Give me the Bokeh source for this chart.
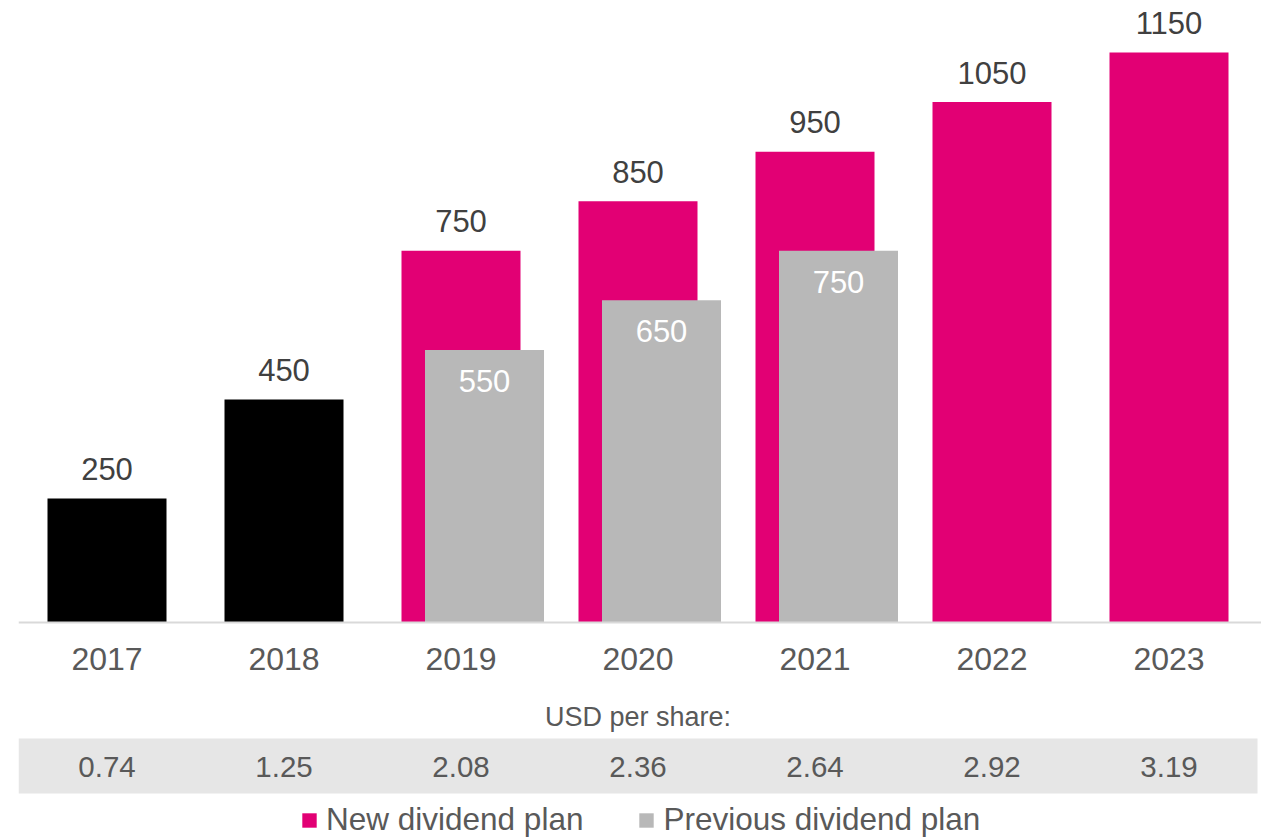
from bokeh.plotting import figure
from bokeh.models import (ColumnDataSource, Range1d, FixedTicker, Legend, LegendItem,
                          BoxAnnotation)
from bokeh.core.properties import value
from bokeh.embed import file_html
from bokeh.resources import INLINE

# ---------------- data ----------------
years = ["2017", "2018", "2019", "2020", "2021", "2022", "2023"]
actual_years = ["2017", "2018"]
actual_values = [250, 450]
new_years = ["2019", "2020", "2021", "2022", "2023"]
new_values = [750, 850, 950, 1050, 1150]
prev_years = ["2019", "2020", "2021"]
prev_values = [550, 650, 750]
usd_per_share = ["0.74", "1.25", "2.08", "2.36", "2.64", "2.92", "3.19"]

# ---------------- styling ----------------
MAGENTA = "#E20074"
GREY = "#B8B8B8"
BAND = "#E6E6E6"
FONT = "Liberation Sans"

W, H = 1261, 839
LEFT = 18
PX_PER_CAT = 177.0
AXIS_PX = 622.0                    # axis position from top of figure
PX = 1150 / 570.0                  # data units per pixel (vertical)

idx = {y: i for i, y in enumerate(years)}
frame_w = W - LEFT
x_start = -0.5
x_end = x_start + frame_w / PX_PER_CAT
y_end = AXIS_PX * PX
y_start = -(H - AXIS_PX) * PX


def below(px):
    """data y for a pixel row px (from top of figure) below the axis"""
    return -(px - AXIS_PX) * PX


BAR_W = 119 / PX_PER_CAT
PREV_SHIFT = 23.5 / PX_PER_CAT

p = figure(width=W, height=H, output_backend="svg", toolbar_location=None,
           x_range=Range1d(x_start, x_end), y_range=Range1d(y_start, y_end),
           y_axis_location=None, min_border_left=LEFT, min_border_right=0,
           min_border_top=0, min_border_bottom=0)
p.outline_line_color = None
p.grid.visible = False
p.background_fill_color = "white"
p.border_fill_color = "white"

# grey band for USD per share row
p.add_layout(BoxAnnotation(bottom=below(738), top=below(793), left=x_start,
                           right=len(years) - 0.5,
                           fill_color=BAND, fill_alpha=1, line_color=None, level="underlay"))

# bars
src_act = ColumnDataSource(dict(x=[idx[y] for y in actual_years], top=actual_values,
                                label=[str(v) for v in actual_values]))
src_new = ColumnDataSource(dict(x=[idx[y] for y in new_years], top=new_values,
                                label=[str(v) for v in new_values]))
src_prev = ColumnDataSource(dict(x=[idx[y] + PREV_SHIFT for y in prev_years], top=prev_values,
                                 label=[str(v) for v in prev_values]))

p.vbar(x="x", top="top", bottom=0, width=BAR_W, source=src_act,
       fill_color="black", line_color=None)
r_new = p.vbar(x="x", top="top", bottom=0, width=BAR_W, source=src_new,
               fill_color=MAGENTA, line_color=None)
r_prev = p.vbar(x="x", top="top", bottom=0, width=BAR_W, source=src_prev,
                fill_color=GREY, line_color=None)

# value labels
lab_above = 29.5 * PX
for s in (src_act, src_new):
    d = s.data
    p.text(x=d["x"], y=[t + lab_above for t in d["top"]], text=d["label"],
           text_font=value(FONT), text_font_size="31px", text_color="#404040",
           text_align="center", text_baseline="middle")
d = src_prev.data
p.text(x=d["x"], y=[t - 31 * PX for t in d["top"]], text=d["label"],
       text_font=value(FONT), text_font_size="31px", text_color="white",
       text_align="center", text_baseline="middle")

# x axis at zero
ax = p.xaxis[0]
ax.fixed_location = 0
ax.ticker = FixedTicker(ticks=list(range(len(years))))
ax.major_label_overrides = {i: y for i, y in enumerate(years)}
ax.major_tick_line_color = None
ax.minor_tick_line_color = None
ax.major_tick_out = 0
ax.major_tick_in = 0
ax.axis_line_color = "#D9D9D9"
ax.axis_line_width = 2
ax.major_label_text_font = FONT
ax.major_label_text_font_size = "32px"
ax.major_label_text_color = "#595959"
ax.major_label_standoff = 25

# USD per share row
p.text(x=[3], y=[below(716)], text=["USD per share:"],
       text_font=value(FONT), text_font_size="27px", text_color="#595959",
       text_align="center", text_baseline="middle")
p.text(x=list(range(len(years))), y=[below(766)] * len(years), text=usd_per_share,
       text_font=value(FONT), text_font_size="29.5px", text_color="#595959",
       text_align="center", text_baseline="middle")

legend = Legend(items=[LegendItem(label="New dividend plan", renderers=[r_new]),
                       LegendItem(label="Previous dividend plan", renderers=[r_prev])],
                orientation="horizontal", location=(282, 1),
                glyph_width=18, glyph_height=18, label_standoff=8, spacing=54,
                padding=0, margin=0, border_line_color=None, background_fill_alpha=0,
                label_text_font=FONT, label_text_font_size="31.5px",
                label_text_color="#595959")
p.add_layout(legend)

open("out.html", "w").write(file_html(p, INLINE))
